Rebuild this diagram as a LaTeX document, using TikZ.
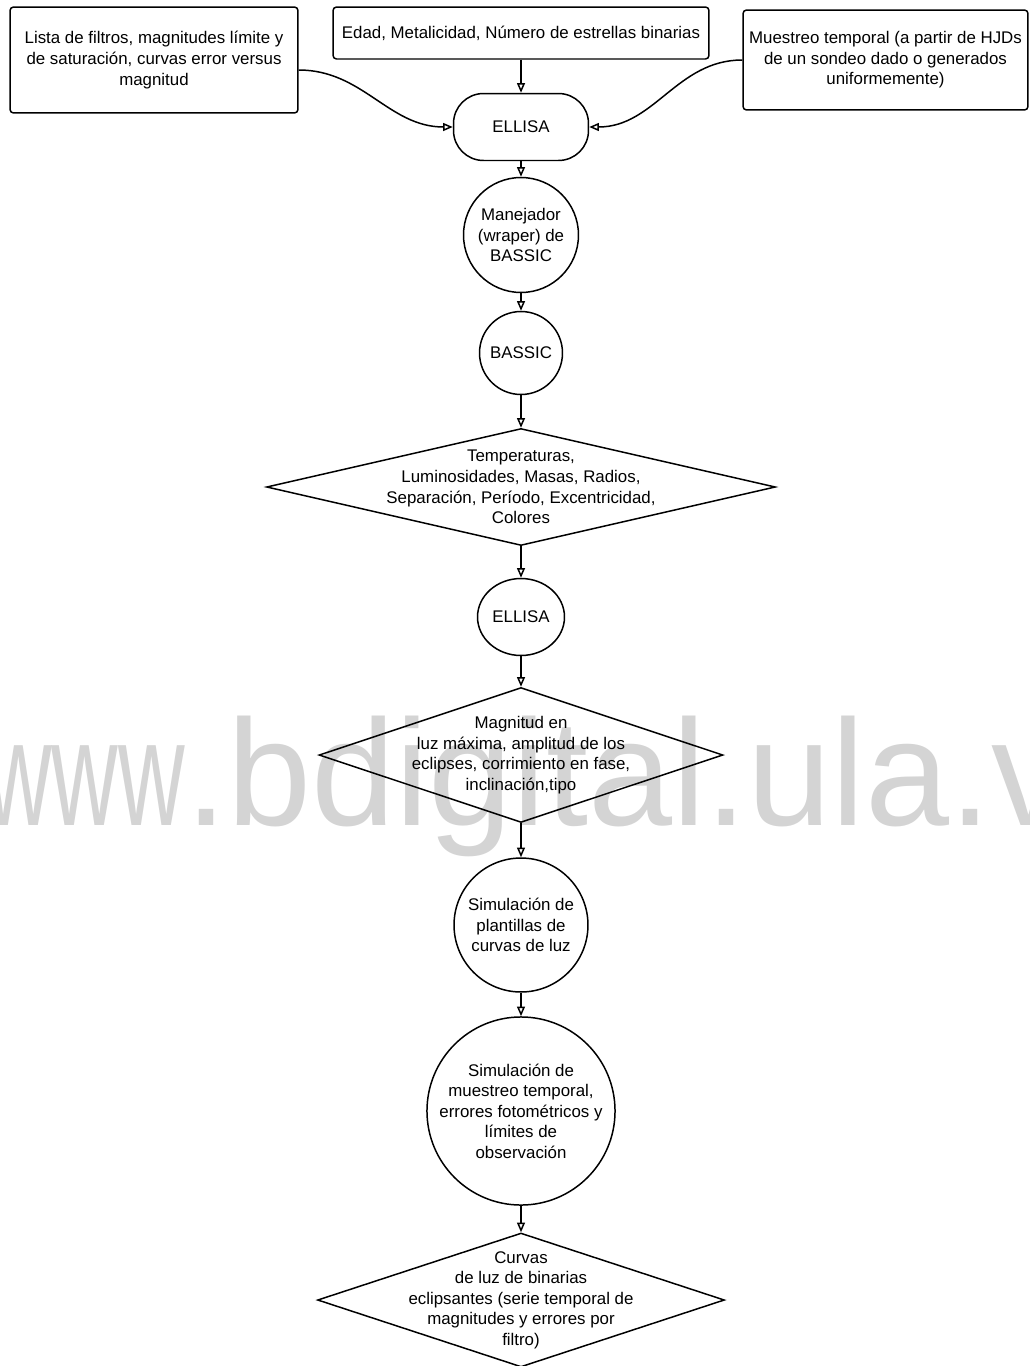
\documentclass[tikz,border=0pt]{standalone}
\usepackage{fontspec}
\setmainfont{Liberation Sans}
\usetikzlibrary{arrows.meta,shapes.geometric}

\begin{document}
\begin{tikzpicture}[
        x=0.02cm, y=-0.02cm,
        font=\fontsize{9.6}{11.7}\selectfont,
        inbox/.style={draw=black, rounded corners=2pt, line width=0.85pt,
          align=center, inner sep=0pt},
        proc/.style={circle, draw=black, line width=0.85pt,
          align=center, inner sep=0pt},
        datum/.style={diamond, draw=black, line width=0.85pt,
          inner sep=0pt, aspect=1},
        txt/.style={align=center, inner sep=0pt},
        connection/.style={-{Triangle[open,length=5.5pt,width=4.5pt]},
          line width=0.85pt}
      ]
      \useasboundingbox (0,0) rectangle (1030,1366);

      % watermark
      \node[anchor=base west, inner sep=0pt, text=black!17,
        font=\fontsize{86}{86}\selectfont] (mark) at (-15,825)
        {\scalebox{0.61}[1]{www}.bdigital.ula.ve};

      % inputs
      \node[inbox, minimum width=5.76cm, minimum height=2.12cm] (filtros) at (154,60)
        {Lista de filtros, magnitudes límite y\\de saturación, curvas error versus\\magnitud};
      \node[inbox, minimum width=7.52cm, minimum height=1.04cm] (edad) at (521,33)
        {Edad, Metalicidad, Número de estrellas binarias};
      \node[inbox, minimum width=5.7cm, minimum height=2cm] (muestreo) at (885.5,60)
        {Muestreo temporal (a partir de HJDs\\de un sondeo dado o generados\\uniformemente)};

      \node[draw=black, line width=0.85pt, rounded corners=0.6cm,
        minimum width=2.7cm, minimum height=1.34cm] (ellisa) at (521,127) {ELLISA};

      \node[proc, minimum size=2.3cm] (wrapper) at (521,235)
        {Manejador\\(wraper) de\\BASSIC};
      \node[proc, minimum size=1.66cm] (bassic) at (521,353) {BASSIC};

      \node[datum, minimum width=10.18cm, minimum height=2.34cm] (params) at (521,487) {};
      \node[txt] (params-t) at (params)
        {Temperaturas,\\Luminosidades, Masas, Radios,\\Separación, Período, Excentricidad,\\Colores};

      \node[ellipse, draw=black, line width=0.85pt, inner sep=0pt,
        minimum width=1.74cm, minimum height=1.54cm] (ellisa2) at (521,617) {ELLISA};

      \node[datum, minimum width=8.08cm, minimum height=2.7cm] (magn) at (521,755) {};
      \node[txt] (magn-t) at (magn)
        {Magnitud en\\luz máxima, amplitud de los\\eclipses, corrimiento en fase,\\inclinación,tipo};

      \node[proc, minimum size=2.68cm] (plantillas) at (521,925)
        {Simulación de\\plantillas de\\curvas de luz};
      \node[proc, minimum size=3.52cm] (simmuestreo) at (521,1111)
        {Simulación de\\muestreo temporal,\\errores fotométricos y\\límites de\\observación};

      \node[datum, minimum width=8.14cm, minimum height=2.68cm] (curvas) at (521,1300) {};
      \node[txt] (curvas-t) at (curvas)
        {Curvas\\de luz de binarias\\eclipsantes (serie temporal de\\magnitudes y errores por\\filtro)};

      \draw[connection] ([yshift=-0.2cm]filtros.east) to[out=0, in=180] (ellisa.west);
      \draw[connection] (muestreo.west) to[out=180, in=0] (ellisa.east);
      \draw[connection] (edad) -- (ellisa);
      \draw[connection] (ellisa) -- (wrapper);
      \draw[connection] (wrapper) -- (bassic);
      \draw[connection] (bassic) -- (params.north);
      \draw[connection] (params.south) -- (ellisa2);
      \draw[connection] (ellisa2) -- (magn.north);
      \draw[connection] (magn.south) -- (plantillas);
      \draw[connection] (plantillas) -- (simmuestreo);
      \draw[connection] (simmuestreo) -- (curvas.north);
    \end{tikzpicture}
\end{document}
